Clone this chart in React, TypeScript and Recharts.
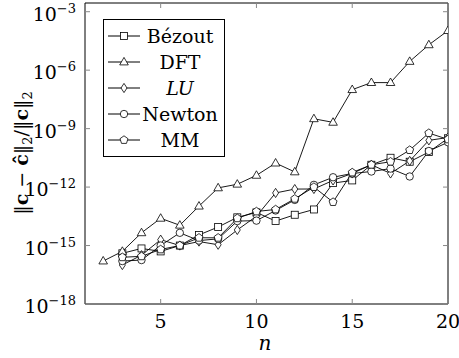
import React from 'react';
import { LineChart, Line, XAxis, YAxis, ReferenceArea, Legend } from 'recharts';

// matrix size n
const N_DFT = [2, 3, 4, 5, 6, 7, 8, 9, 10, 11, 12, 13, 14, 15, 16, 17, 18, 19, 20];
const N_REST = [3, 4, 5, 6, 7, 8, 9, 10, 11, 12, 13, 14, 15, 16, 17, 18, 19, 20];

// relative errors
const BEZOUT = [4.0e-16, 7.1e-16, 5.0e-16, 1.0e-15, 3.5e-15, 8.9e-15, 2.8e-14, 5.0e-14, 1.8e-14, 3.8e-14, 7.1e-14, 1.6e-12, 2.2e-12, 1.4e-11, 3.2e-11, 2.0e-11, 6.3e-11, 3.2e-10];
const DFT = [1.6e-16, 5.0e-16, 4.5e-15, 2.5e-14, 1.1e-14, 1.05e-13, 9.1e-13, 1.4e-12, 4.0e-12, 1.7e-11, 6.0e-12, 3.2e-9, 2.1e-9, 1.0e-7, 2.3e-7, 2.3e-7, 2.8e-6, 2.0e-5, 1.07e-4];
const LU = [1.0e-16, 3.2e-16, 2.0e-15, 1.0e-15, 1.6e-15, 1.1e-15, 6.3e-15, 3.2e-14, 5.0e-13, 7.9e-13, 8.0e-13, 2.2e-12, 5.0e-12, 1.4e-11, 5.0e-12, 2.2e-11, 2.5e-10, 3.5e-10];
const NEWTON = [1.6e-16, 1.8e-16, 1.0e-15, 4.5e-15, 1.8e-15, 2.2e-15, 1.8e-14, 1.9e-14, 6.3e-14, 2.2e-13, 1.3e-12, 3.2e-12, 5.0e-12, 6.3e-12, 8.9e-12, 3.5e-12, 7.1e-11, 2.0e-10];
const MM = [2.5e-16, 2.8e-16, 6.3e-16, 1.0e-15, 2.5e-15, 2.5e-15, 2.5e-14, 5.6e-14, 7.1e-14, 2.5e-13, 1.0e-12, 1.7e-13, 5.6e-12, 1.4e-11, 2.0e-11, 7.9e-11, 5.9e-10, 2.8e-10];

const X_TICKS = [5, 10, 15, 20];
const Y_TICKS = [1e-18, 1e-15, 1e-12, 1e-9, 1e-6, 1e-3];

const X_MIN = 1.05;
const X_MAX = 20;
const Y_MIN = 1e-18;
const Y_MAX = 2.8e-3;

const W = 459;
const H = 358;
const PLOT_LEFT = 85;
const PLOT_RIGHT = 448;
const PLOT_TOP = 3;
const PLOT_BOTTOM = 304;

const FONT = "'DejaVu Serif', 'Liberation Serif', serif";

type Shape = 'square' | 'triangle' | 'diamond' | 'circle' | 'pentagon';

const SERIES: { key: string; name: string; italic?: boolean; shape: Shape }[] = [
  { key: 'bezout', name: 'Bézout', shape: 'square' },
  { key: 'dft', name: 'DFT', shape: 'triangle' },
  { key: 'lu', name: 'LU', italic: true, shape: 'diamond' },
  { key: 'newton', name: 'Newton', shape: 'circle' },
  { key: 'mm', name: 'MM', shape: 'pentagon' },
];

const data = N_DFT.map((n) => {
  const i = N_REST.indexOf(n);
  return {
    n,
    dft: DFT[N_DFT.indexOf(n)],
    bezout: i >= 0 ? BEZOUT[i] : null,
    lu: i >= 0 ? LU[i] : null,
    newton: i >= 0 ? NEWTON[i] : null,
    mm: i >= 0 ? MM[i] : null,
  };
});

const Mark = ({ cx, cy, shape }: { cx: number; cy: number; shape: Shape }) => {
  const common = { fill: '#fff', stroke: '#000', strokeWidth: 0.8 };
  switch (shape) {
    case 'square':
      return <rect x={cx - 3.5} y={cy - 3.5} width={7} height={7} {...common} />;
    case 'triangle':
      return <polygon points={`${cx},${cy - 4.6} ${cx - 4.3},${cy + 2.9} ${cx + 4.3},${cy + 2.9}`} {...common} />;
    case 'diamond':
      return <polygon points={`${cx},${cy - 4.6} ${cx + 3},${cy} ${cx},${cy + 4.6} ${cx - 3},${cy}`} {...common} />;
    case 'circle':
      return <circle cx={cx} cy={cy} r={3.7} {...common} />;
    default: {
      const pts = [0, 1, 2, 3, 4]
        .map((k) => {
          const a = -Math.PI / 2 + (k * 2 * Math.PI) / 5;
          return `${cx + 4.2 * Math.cos(a)},${cy + 4.2 * Math.sin(a)}`;
        })
        .join(' ');
      return <polygon points={pts} {...common} />;
    }
  }
};

const XTick = (props: any) => {
  const { x, y, payload } = props;
  return (
    <g>
      <line x1={x} x2={x} y1={PLOT_BOTTOM} y2={PLOT_BOTTOM - 5} stroke="#888" />
      <line x1={x} x2={x} y1={PLOT_TOP} y2={PLOT_TOP + 5} stroke="#888" />
      <text x={x} y={y + 24} textAnchor="middle" style={{ fontFamily: FONT }} fontSize={19} fill="#000">
        {payload.value}
      </text>
    </g>
  );
};

const YTick = (props: any) => {
  const { y, payload } = props;
  const e = Math.round(Math.log10(payload.value));
  return (
    <g>
      <line x1={PLOT_LEFT} x2={PLOT_LEFT + 5} y1={y} y2={y} stroke="#888" />
      <line x1={PLOT_RIGHT} x2={PLOT_RIGHT - 5} y1={y} y2={y} stroke="#888" />
      <text x={PLOT_LEFT - 9} y={y + 9} textAnchor="end" style={{ fontFamily: FONT }} fontSize={19} fill="#000">
        10
        <tspan dy={-8} fontSize={13}>
          {'\u2212' + Math.abs(e)}
        </tspan>
      </text>
    </g>
  );
};

const YLabel = () => (
  <text
    x={0}
    y={0}
    transform="translate(28,153) rotate(-90)"
    textAnchor="middle"
    style={{ fontFamily: FONT }}
    fontSize={19}
    fill="#000"
  >
    ‖<tspan fontWeight="bold">c</tspan> − <tspan fontWeight="bold">{'c\u0302'}</tspan>‖
    <tspan fontSize={13} dy={4}>2</tspan>
    <tspan dy={-4}>/‖</tspan>
    <tspan fontWeight="bold">c</tspan>‖
    <tspan fontSize={13} dy={4}>2</tspan>
  </text>
);

const XLabel = () => (
  <text x={265} y={350} textAnchor="middle" style={{ fontFamily: FONT }} fontSize={20} fontStyle="italic" fill="#000">
    n
  </text>
);

const LegendBox = () => (
  <div
    style={{
      border: '1px solid #000',
      background: '#fff',
      padding: '3px 4px',
      fontFamily: FONT,
      fontSize: 19,
      color: '#000',
    }}
  >
    {SERIES.map((s) => (
      <div key={s.key} style={{ display: 'flex', alignItems: 'center', height: 26 }}>
        <svg width={32} height={12} style={{ display: 'block' }}>
          <line x1={0} x2={32} y1={6} y2={6} stroke="#000" strokeWidth={1} />
          <Mark cx={16} cy={6} shape={s.shape} />
        </svg>
        <div style={{ width: 80, textAlign: 'center', lineHeight: '26px', fontStyle: s.italic ? 'italic' : 'normal' }}>
          {s.name}
        </div>
      </div>
    ))}
  </div>
);

export default function App() {
  return (
    <div style={{ position: 'absolute', left: 0, top: 0, width: W, height: H, background: '#fff' }}>
      <LineChart width={W} height={H} data={data} margin={{ top: PLOT_TOP, right: W - PLOT_RIGHT, bottom: 0, left: 0 }}>
        <XAxis
          dataKey="n"
          type="number"
          domain={[X_MIN, X_MAX]}
          allowDataOverflow
          ticks={X_TICKS}
          interval={0}
          height={H - PLOT_BOTTOM}
          axisLine={false}
          tickLine={false}
          tickSize={0}
          tickMargin={0}
          tick={<XTick />}
          label={<XLabel />}
        />
        <YAxis
          type="number"
          scale="log"
          domain={[Y_MIN, Y_MAX]}
          allowDataOverflow
          ticks={Y_TICKS}
          interval={0}
          width={PLOT_LEFT}
          axisLine={false}
          tickLine={false}
          tickSize={0}
          tickMargin={0}
          tick={<YTick />}
          label={<YLabel />}
        />
        <ReferenceArea
          x1={X_MIN}
          x2={X_MAX}
          y1={Y_MIN}
          y2={Y_MAX}
          fill="none"
          stroke="#000"
          strokeWidth={1}
          ifOverflow="visible"
        />
        {SERIES.map((s) => (
          <Line
            key={s.key}
            dataKey={s.key}
            type="linear"
            stroke="#000"
            strokeWidth={0.9}
            isAnimationActive={false}
            connectNulls={false}
            dot={(p: any) =>
              p.cx == null || p.cy == null || p.value == null ? (
                <g key={p.key ?? `${s.key}-${p.index}`} />
              ) : (
                <Mark key={p.key ?? `${s.key}-${p.index}`} cx={p.cx} cy={p.cy} shape={s.shape} />
              )
            }
            activeDot={false}
          />
        ))}
        <Legend
          layout="vertical"
          align="center"
          verticalAlign="middle"
          content={() => <LegendBox />}
          wrapperStyle={{ left: 103, top: 19, width: 'auto', height: 'auto' }}
        />
      </LineChart>
    </div>
  );
}
